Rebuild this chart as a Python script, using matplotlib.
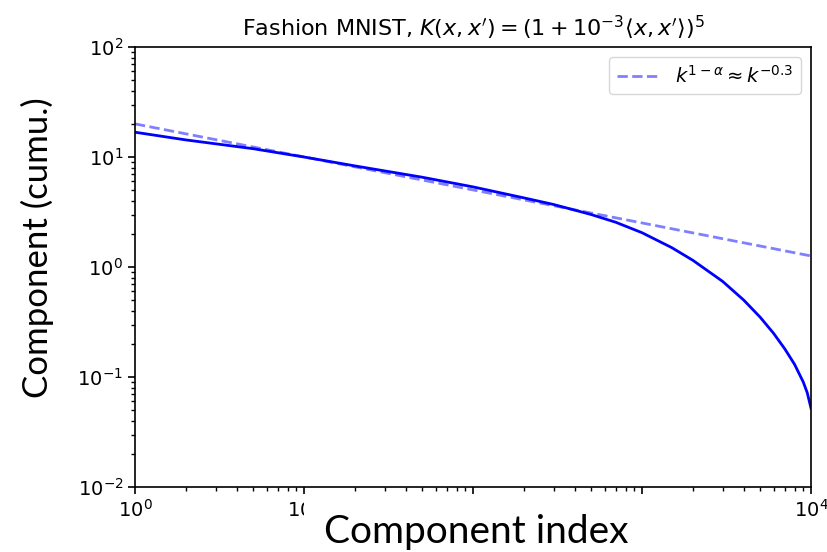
import numpy as np
import matplotlib
matplotlib.use('Agg')
import matplotlib.pyplot as plt
from matplotlib.patches import Rectangle

# cumulative component values
comp_index = [1, 2, 5, 10, 20, 50, 100, 200, 300, 500, 700, 1000, 1500,
              2000, 3000, 4000, 5000, 6000, 7000, 8000, 9000, 9500, 10000]
comp_cumu = [16.8, 14.3, 11.9, 10.0, 8.3, 6.55, 5.35, 4.25, 3.7, 3.0, 2.55,
             2.05, 1.5, 1.15, 0.74, 0.50, 0.35, 0.25, 0.18, 0.13, 0.09,
             0.072, 0.052]

# power-law reference line, end points
ref_index = [1, 10000]
ref_vals = [20, 1.26]
ref_label = r'$k^{1-\alpha} \approx k^{-0.3}$'

title = r"Fashion MNIST, $K(x, x') = (1 + 10^{-3}\langle x, x'\rangle)^5$"


def draw():
    fig = plt.figure(figsize=(8.28, 5.52), dpi=100)
    ax = fig.add_axes([135 / 828, 1 - 487 / 552, 676 / 828, 440 / 552])

    ax.loglog(ref_index, ref_vals, '--', color='b', alpha=0.5, lw=2,
              label=ref_label)
    ax.loglog(comp_index, comp_cumu, '-', color='b', lw=2)

    ax.set_xlim(1, 1e4)
    ax.set_ylim(1e-2, 1e2)
    ax.tick_params(which='major', labelsize=14, length=5, width=1.2)
    ax.tick_params(which='minor', length=3, width=1)
    for s in ax.spines.values():
        s.set_linewidth(1.2)

    ax.set_title(title, fontsize=16, pad=8)
    ax.legend(loc='upper right', fontsize=14, handlelength=2.2)

    # big labels pasted on top (a white patch hides some tick labels)
    fig.patches.append(Rectangle((304 / 828, 0), 400 / 828, 54 / 552,
                                 transform=fig.transFigure, facecolor='white',
                                 edgecolor='none', zorder=5))
    fig.text(0.575, 0.016, 'Component index', fontsize=28, family='Lato',
             ha='center', va='baseline', zorder=6)
    fig.text(0.045, 1 - 248 / 552, 'Component (cumu.)', fontsize=25,
             family='Lato', rotation=90, ha='center', va='center')

    fig.savefig('out.png', dpi=100)


def main():
    draw()


if __name__ == '__main__':
    main()
